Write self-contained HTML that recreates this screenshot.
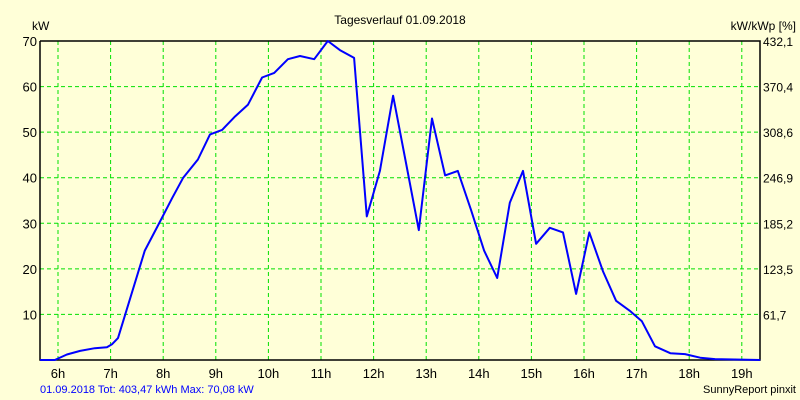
<!DOCTYPE html>
<html><head><meta charset="utf-8"><style>
body{margin:0;background:#ffffd8;}
svg{display:block;font-family:"Liberation Sans",Arial,sans-serif;}
</style></head><body>
<svg width="800" height="400" viewBox="0 0 800 400">
<rect width="800" height="400" fill="#ffffd8"/>
<g id="grid"></g>
<g id="axes"></g>
<text x="400" y="24" text-anchor="middle" font-size="12">Tagesverlauf 01.09.2018</text>
<text x="32" y="30" font-size="12">kW</text>
<text x="796" y="30" text-anchor="end" font-size="12">kW/kWp [%]</text>
<text x="40" y="393" font-size="11" fill="#0000ff">01.09.2018 Tot: 403,47 kWh Max: 70,08 kW</text>
<text x="796" y="393" text-anchor="end" font-size="11">SunnyReport pinxit</text>
<polyline id="line" fill="none" stroke="#0000ff" stroke-width="2" stroke-linejoin="round"/>
</svg>
<script>
const hours=[5.66,5.94,6.17,6.42,6.70,6.93,7.03,7.14,7.65,7.90,8.17,8.38,8.66,8.89,9.12,9.37,9.61,9.88,10.11,10.37,10.60,10.87,11.13,11.36,11.63,11.87,12.12,12.37,12.62,12.86,13.11,13.36,13.60,13.85,14.10,14.35,14.59,14.84,15.09,15.35,15.60,15.85,16.10,16.36,16.61,16.87,17.10,17.35,17.64,17.92,18.21,18.49,19.35];
const kw=[0,0,1.2,2,2.6,2.8,3.5,4.8,24,29.5,35.5,40,44,49.5,50.5,53.5,56,62,63,66,66.7,66,70,68,66.3,31.5,41.5,58,43,28.5,53,40.5,41.5,33,24,18,34.5,41.5,25.5,29,28,14.5,28,19.5,13,10.8,8.5,3,1.5,1.3,0.5,0.2,0];
const yTicks=[10,20,30,40,50,60,70];
const rightLabels=["61,7","123,5","185,2","246,9","308,6","370,4","432,1"];
const hourTicks=[6,7,8,9,10,11,12,13,14,15,16,17,18,19];
const L=40,R=760,T=41,B=360;
const xs=h=>58+(h-6)*52.6;
const ys=v=>B-(v/70)*(B-T);
const ns="http://www.w3.org/2000/svg";
const grid=document.getElementById('grid'),axes=document.getElementById('axes');
function mk(tag,attrs,parent,txt){const e=document.createElementNS(ns,tag);for(const k in attrs)e.setAttribute(k,attrs[k]);if(txt!==undefined)e.textContent=txt;parent.appendChild(e);return e;}
yTicks.forEach((v,i)=>{
 const y=ys(v);
 const g=mk('line',{x1:L,x2:R,y1:y,y2:y,stroke:'#00e000','stroke-dasharray':'4,3'},grid);
 
 
 const t=mk('text',{x:L-3,y:y+5,'text-anchor':'end','font-size':'13'},axes,String(v));
 
 
 const r=mk('text',{x:R+3,y:y+5,'font-size':'12'},axes,rightLabels[i]);
 
 
});
hourTicks.forEach(h=>{
 const x=xs(h);
 const g=mk('line',{x1:x,x2:x,y1:T,y2:B,stroke:'#00e000','stroke-dasharray':'4,3'},grid);
 
 
 const t=mk('text',{x:x,y:378,'text-anchor':'middle','font-size':'13'},axes,h+'h');
 
 
});
const f=mk('path',{d:`M${L},${T}V${B}H${R}V${T}H${L}`,fill:'none',stroke:'#000','stroke-width':'1.5'},axes);


document.getElementById('line').setAttribute('points',hours.map((h,i)=>xs(h).toFixed(1)+','+ys(kw[i]).toFixed(1)).join(' '));
</script>
</body></html>
